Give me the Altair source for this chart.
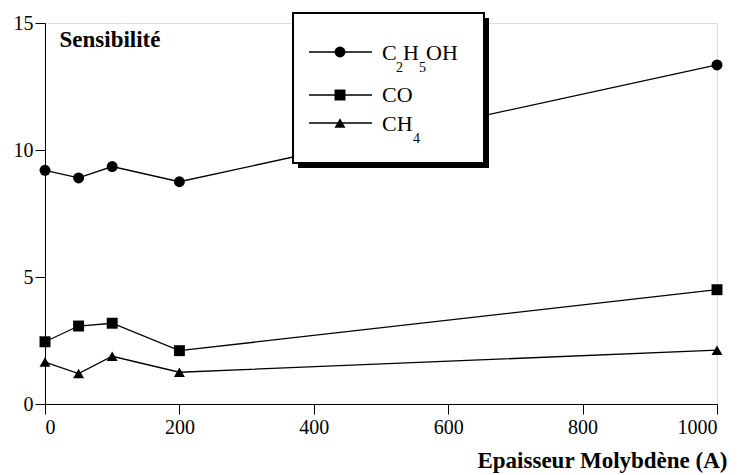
import altair as alt
import pandas as pd

# Data
epaisseur = [0, 50, 100, 200, 1000]
c2h5oh = [9.2, 8.9, 9.35, 8.75, 13.35]
co = [2.45, 3.07, 3.18, 2.1, 4.5]
ch4 = [1.65, 1.2, 1.88, 1.25, 2.12]
series_names = ["C2H5OH", "CO", "CH4"]
shapes = ["circle", "square", "triangle-up"]
x_ticks = [0, 200, 400, 600, 800, 1000]
y_ticks = [0, 5, 10, 15]

rows = []
for name, vals in zip(series_names, [c2h5oh, co, ch4]):
    for x, y in zip(epaisseur, vals):
        rows.append({"serie": name, "x": x, "y": y})
df = pd.DataFrame(rows)

FONT = "Liberation Serif"
W, H = 672, 381

x_axis = alt.Axis(values=x_ticks, format="d", tickSize=10, labelPadding=3,
                  grid=False, title="Epaisseur Molybdène (A)",
                  titleAnchor="end", titleAlign="right", titleX=682,
                  titleY=63, titleBaseline="alphabetic", titleFontSize=23)
y_axis = alt.Axis(values=y_ticks, tickSize=10, labelPadding=2, grid=False,
                  title="Sensibilité", titleAngle=0, titleAlign="left",
                  titleX=14, titleY=23, titleBaseline="alphabetic", titleFontSize=23)

x_enc = alt.X("x:Q", scale=alt.Scale(domain=[0, 1000], nice=False), axis=x_axis)
y_enc = alt.Y("y:Q", scale=alt.Scale(domain=[0, 15], nice=False), axis=y_axis)

base = alt.Chart(df)
lines = base.mark_line(color="black", strokeWidth=1.3).encode(
    x=x_enc, y=y_enc, detail="serie:N")
points = base.mark_point(filled=True, color="black", opacity=1, size=120).encode(
    x=x_enc, y=y_enc,
    shape=alt.Shape("serie:N", scale=alt.Scale(domain=series_names, range=shapes), legend=None))

# Manual legend box (pixel positions in plot coordinates)
BL, BT, BR, BB = 248, -10, 439, 140
SH = 5
one = pd.DataFrame({"a": [0]})
shadow = alt.Chart(one).mark_rect(color="black").encode(
    x=alt.value(BL + SH), x2=alt.value(BR + SH), y=alt.value(BT + SH), y2=alt.value(BB + SH))
box = alt.Chart(one).mark_rect(fill="white", stroke="black", strokeWidth=2).encode(
    x=alt.value(BL), x2=alt.value(BR), y=alt.value(BT), y2=alt.value(BB))

legend_layers = []
row_y = [29, 72, 100]
for (yy, shp) in zip(row_y, shapes):
    legend_layers.append(alt.Chart(one).mark_rule(color="black", strokeWidth=1.3).encode(
        x=alt.value(264), x2=alt.value(327), y=alt.value(yy)))
    legend_layers.append(alt.Chart(one).mark_point(filled=True, color="black", opacity=1,
                                                   size=120, shape=shp).encode(
        x=alt.value(295), y=alt.value(yy)))

def txt(s, x, y, size=22):
    return alt.Chart(one).mark_text(text=s, font=FONT, fontSize=size, align="left",
                                    baseline="alphabetic", color="black").encode(
        x=alt.value(x), y=alt.value(y))

legend_layers += [
    txt("C", 337, 37), txt("2", 351, 49, 14), txt("H", 358, 37), txt("5", 374, 49, 14),
    txt("OH", 381, 37),
    txt("CO", 337, 79),
    txt("CH", 337, 108), txt("4", 368, 120, 14),
]

chart = alt.layer(lines, points, shadow, box, *legend_layers).properties(
    width=W, height=H,
    autosize=alt.AutoSizeParams(type="none"),
    padding={"left": 37, "top": 15, "right": 16, "bottom": 70},
).configure_view(stroke=None).configure(background="white").configure_axis(
    labelFont=FONT, labelFontSize=20, labelColor="black",
    titleFont=FONT, titleFontWeight="bold", titleColor="black",
    domainColor="black", tickColor="black", domainWidth=1, tickWidth=1,
)

chart.save("out.html", embed_options={"renderer": "svg", "actions": False})
